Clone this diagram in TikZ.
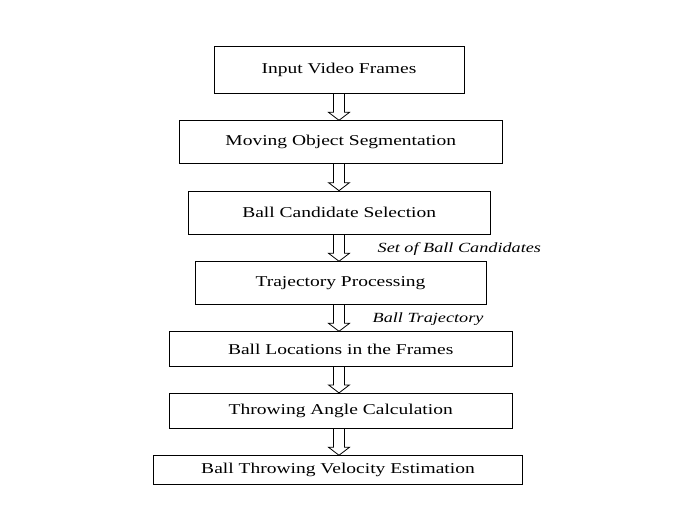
\documentclass[tikz,border=0pt]{standalone}
\usepackage{fontspec}
\setmainfont{Liberation Serif}[FakeStretch=1.3]
\usetikzlibrary{calc}

\begin{document}
\begin{tikzpicture}[x=1pt,y=-1pt,
  stage/.style={draw,line width=.8pt,inner sep=0pt,font=\fontsize{15}{18}\selectfont},
  note/.style={anchor=west,inner sep=0pt,font=\fontsize{14}{17}\selectfont\itshape},
  hollow/.style={line width=.8pt,to path={let \p1=(\tikztostart),\p2=(\tikztotarget) in
    (\x1-5.5pt,\y1) -- (\x1-5.5pt,\y2+8pt) -- (\x1-10.5pt,\y2+8pt) -- (\x1,\y2)
    -- (\x1+10.5pt,\y2+8pt) -- (\x1+5.5pt,\y2+8pt) -- (\x1+5.5pt,\y1)}}]
  \useasboundingbox (0,0) rectangle (673,520);
  \node[stage,minimum width=250pt,minimum height=46.6pt] (inp) at (339,70){Input Video Frames};
  \node[stage,minimum width=323.7pt,minimum height=42.6pt] (seg) at (340.8,142){Moving Object Segmentation};
  \node[stage,minimum width=301.7pt,minimum height=43.3pt] (cand) at (339.2,212.7){Ball Candidate Selection};
  \node[stage,minimum width=291pt,minimum height=42.3pt] (traj) at (340.5,282.8){Trajectory Processing};
  \node[stage,minimum width=343.3pt,minimum height=35pt] (loc) at (340.7,349.2){Ball Locations in the Frames};
  \node[stage,minimum width=343.3pt,minimum height=35pt] (ang) at (340.7,410.8){Throwing Angle Calculation};
  \node[stage,minimum width=369.3pt,minimum height=28.3pt] (vel) at (338,469.8){Ball Throwing Velocity Estimation};
  \draw[hollow] (inp.south) to (inp.south |- seg.north);
  \draw[hollow] (seg.south -| inp.south) to (inp.south |- cand.north);
  \draw[hollow] (cand.south -| inp.south) to (inp.south |- traj.north);
  \draw[hollow] (traj.south -| inp.south) to (inp.south |- loc.north);
  \draw[hollow] (loc.south -| inp.south) to (inp.south |- ang.north);
  \draw[hollow] (ang.south -| inp.south) to (inp.south |- vel.north);
  \node[note] (cands) at (377.5,249.3){Set of Ball Candidates};
  \node[note] (path) at (372.5,319.3){Ball Trajectory};
\end{tikzpicture}
\end{document}
